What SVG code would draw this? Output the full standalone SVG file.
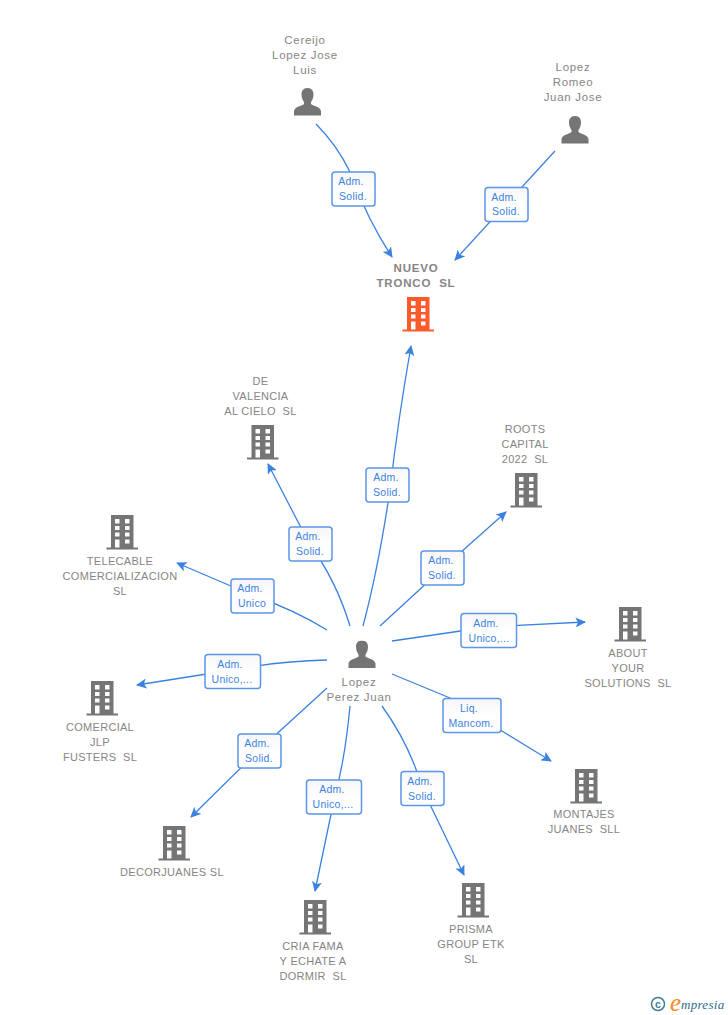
<svg xmlns="http://www.w3.org/2000/svg" width="728" height="1015" viewBox="0 0 728 1015">
<style>
text{white-space:pre}
.e{fill:none;stroke:#3b82e0;stroke-width:1.3}
.b{fill:url(#g);stroke:#5b96e6;stroke-width:1.5}
.bt{font:10.500px "Liberation Sans",Arial,sans-serif;fill:#3b82e0;text-anchor:middle;letter-spacing:.25px}
.t{font:11.500px "Liberation Sans",Arial,sans-serif;fill:#858585;text-anchor:middle;letter-spacing:.7px}
.c{font:11px "Liberation Sans",Arial,sans-serif;fill:#858585;text-anchor:middle;letter-spacing:.3px}
.m{font:bold 11.500px "Liberation Sans",Arial,sans-serif;fill:#858585;text-anchor:middle;letter-spacing:.8px}
</style>
<defs>
<linearGradient id="g" x1="0" y1="0" x2="0" y2="1"><stop offset="0" stop-color="#f6f6f6"/><stop offset=".5" stop-color="#fff"/></linearGradient>
<marker id="a" markerWidth="11" markerHeight="10" refX="9.500" refY="5" orient="auto" markerUnits="userSpaceOnUse"><path d="M0 0L10.500 5L0 10L2.500 5Z" fill="#3b82e0"/></marker>
<symbol id="bld" width="32" height="35" viewBox="0 0 32 35" overflow="visible"><path fill-rule="evenodd" d="M0 32.500H4.500V0H27V32.500H31.500V34.500H0ZM8.500 4V8.500H13V4ZM18.500 4V8.500H23V4ZM8.500 11V15H13V11ZM18.500 11V15H23V11ZM8.500 17.500V21.500H13V17.500ZM18.500 17.500V21.500H23V17.500ZM8.500 24.500V32.500H13V24.500ZM18.500 24.500V28.500H23V24.500Z"/></symbol>
<symbol id="psn" width="28" height="28" viewBox="0 0 28 28"><path fill="#757575" d="M14 0C9.500 0 8 3 8 6.500C8 10 9.500 12.500 10.500 14V16C8.500 18 1.500 18.500 .5 23V27.500H27.500V23C26.500 18.500 19.500 18 17.500 16V14C18.500 12.500 20 10 20 6.500C20 3 18.500 0 14 0Z"/></symbol>
</defs>
<g id="connectors">
<path class="e" marker-end="url(#a)" d="M316 124Q337 145 350 172L353 180Q368 220 392 257"/>
<path class="e" marker-end="url(#a)" d="M555 151L455 260"/>
<path class="e" marker-end="url(#a)" d="M363 626Q378 570 390 490Q398 420 411 346"/>
<path class="e" marker-end="url(#a)" d="M350 626Q336 580 310 545L268 464"/>
<path class="e" marker-end="url(#a)" d="M380 626L442 569L506 512"/>
<path class="e" marker-end="url(#a)" d="M327 630Q295 610 252 595L177 563"/>
<path class="e" marker-end="url(#a)" d="M392 641L488 627L585 622"/>
<path class="e" marker-end="url(#a)" d="M327 660Q280 661 232 670L137 685"/>
<path class="e" marker-end="url(#a)" d="M392 674L450 698Q475 712 502 731L551 761"/>
<path class="e" marker-end="url(#a)" d="M327 688L259 750L191 817"/>
<path class="e" marker-end="url(#a)" d="M350 706Q345 760 334 800L315 891"/>
<path class="e" marker-end="url(#a)" d="M382 706Q410 745 423 790L464 875"/>
</g>
<g id="labels">
<rect class="b" x="332" y="172" width="43" height="34" rx="3"/><text class="bt" x="351" y="185">Adm.</text><text class="bt" x="353" y="200">Solid.</text>
<rect class="b" x="485" y="187.500" width="43" height="34" rx="3"/><text class="bt" x="504" y="201">Adm.</text><text class="bt" x="506" y="215">Solid.</text>
<rect class="b" x="366" y="468" width="43" height="34" rx="3"/><text class="bt" x="386" y="481">Adm.</text><text class="bt" x="387" y="496">Solid.</text>
<rect class="b" x="289" y="527" width="43" height="34" rx="3"/><text class="bt" x="308" y="540">Adm.</text><text class="bt" x="310" y="555">Solid.</text>
<rect class="b" x="421" y="551" width="43" height="34" rx="3"/><text class="bt" x="441" y="564">Adm.</text><text class="bt" x="442" y="579">Solid.</text>
<rect class="b" x="231" y="579" width="43" height="34" rx="3"/><text class="bt" x="250" y="592">Adm.</text><text class="bt" x="252" y="607">Unico</text>
<rect class="b" x="461" y="613.500" width="55.500" height="34" rx="3"/><text class="bt" x="486" y="627">Adm.</text><text class="bt" x="489" y="642">Unico,...</text>
<rect class="b" x="205" y="654.500" width="55.500" height="34" rx="3"/><text class="bt" x="230" y="668">Adm.</text><text class="bt" x="232" y="683">Unico,...</text>
<rect class="b" x="443" y="698.500" width="58" height="34" rx="3"/><text class="bt" x="469" y="712">Liq.</text><text class="bt" x="471" y="727">Mancom.</text>
<rect class="b" x="238" y="734" width="43" height="34" rx="3"/><text class="bt" x="257" y="747">Adm.</text><text class="bt" x="259" y="762">Solid.</text>
<rect class="b" x="306.500" y="780" width="55" height="34" rx="3"/><text class="bt" x="332" y="793">Adm.</text><text class="bt" x="333" y="808">Unico,...</text>
<rect class="b" x="401" y="771.500" width="43" height="34" rx="3"/><text class="bt" x="420" y="785">Adm.</text><text class="bt" x="422" y="800">Solid.</text>
</g>
<g id="n-cereijo"><use href="#psn" x="293.500" y="88"/><text class="t" x="305" y="44">Cereijo</text><text class="t" x="305" y="59">Lopez Jose</text><text class="t" x="305" y="74">Luis</text></g>
<g id="n-romeo"><use href="#psn" x="561" y="116"/><text class="t" x="573" y="71">Lopez</text><text class="t" x="573" y="86">Romeo</text><text class="t" x="573" y="101">Juan Jose</text></g>
<g id="n-nuevo" fill="#ff5a2b"><use href="#bld" x="402.500" y="297"/><text class="m" x="416" y="272">NUEVO</text><text class="m" x="416" y="287">TRONCO  SL</text></g>
<g id="n-valencia" fill="#757575"><use href="#bld" x="247" y="425"/><text class="c" x="260.500" y="385">DE</text><text class="c" x="260.500" y="400">VALENCIA</text><text class="c" x="260.500" y="415">AL CIELO  SL</text></g>
<g id="n-roots" fill="#757575"><use href="#bld" x="510.500" y="473"/><text class="c" x="525" y="433">ROOTS</text><text class="c" x="525" y="448">CAPITAL</text><text class="c" x="525" y="463">2022  SL</text></g>
<g id="n-telecable" fill="#757575"><use href="#bld" x="106.500" y="515"/><text class="c" x="120" y="565">TELECABLE</text><text class="c" x="120" y="580">COMERCIALIZACION</text><text class="c" x="120" y="595">SL</text></g>
<g id="n-about" fill="#757575"><use href="#bld" x="614.500" y="607"/><text class="c" x="628" y="657">ABOUT</text><text class="c" x="628" y="672">YOUR</text><text class="c" x="628" y="687">SOLUTIONS  SL</text></g>
<g id="n-jlp" fill="#757575"><use href="#bld" x="86.500" y="681"/><text class="c" x="100" y="731">COMERCIAL</text><text class="c" x="100" y="746">JLP</text><text class="c" x="100" y="761">FUSTERS  SL</text></g>
<g id="n-montajes" fill="#757575"><use href="#bld" x="570.500" y="769"/><text class="c" x="584" y="818">MONTAJES</text><text class="c" x="584" y="833">JUANES  SLL</text></g>
<g id="n-decor" fill="#757575"><use href="#bld" x="158.500" y="826"/><text class="c" x="172" y="876">DECORJUANES SL</text></g>
<g id="n-cria" fill="#757575"><use href="#bld" x="299.500" y="900"/><text class="c" x="313" y="950">CRIA FAMA</text><text class="c" x="313" y="965">Y ECHATE A</text><text class="c" x="313" y="980">DORMIR  SL</text></g>
<g id="n-prisma" fill="#757575"><use href="#bld" x="457.500" y="883"/><text class="c" x="471" y="933">PRISMA</text><text class="c" x="471" y="948">GROUP ETK</text><text class="c" x="471" y="963">SL</text></g>
<g id="n-lopez"><use href="#psn" x="348" y="640.500"/><text class="t" x="359" y="686">Lopez</text><text class="t" x="359" y="701">Perez Juan</text></g>
<g id="logo"><circle cx="658" cy="1004" r="6.500" fill="none" stroke="#3f7d96" stroke-width="1.500"/><text x="658" y="1007.500" font-family="Liberation Sans,sans-serif" font-size="10.500" font-weight="bold" fill="#3f7d96" text-anchor="middle">c</text><text x="670" y="1011" font-family="Liberation Serif,serif" font-style="italic" font-size="25" fill="#f28a1c">e</text><text x="681" y="1009" font-family="Liberation Serif,serif" font-style="italic" font-size="13" fill="#2c6e8e" letter-spacing=".3">mpresia</text></g>
</svg>
